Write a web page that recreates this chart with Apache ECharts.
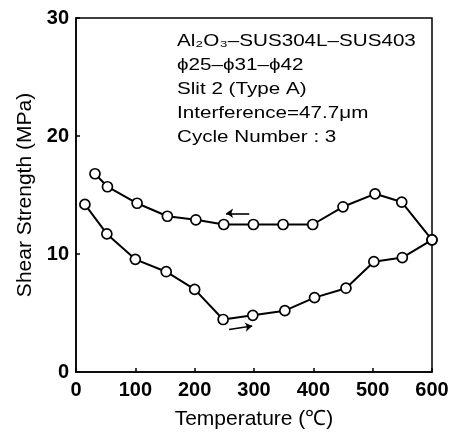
<!DOCTYPE html>
<html>
<head>
<meta charset="utf-8">
<script src="https://cdn.jsdelivr.net/npm/echarts@6/dist/echarts.min.js"></script>
<style>
html,body{margin:0;padding:0;background:#fff;}
#chart{width:459px;height:435px;}
</style>
</head>
<body>
<div id="chart"></div>
<script>
// ---- data ----
var heatT = [15, 52, 100, 152, 200, 248, 298, 352, 402, 455, 502, 550, 600];
var heatS = [14.2, 11.7, 9.55, 8.5, 7.0, 4.45, 4.8, 5.2, 6.3, 7.1, 9.35, 9.7, 11.2];
var coolT = [600, 549, 504, 450, 399, 349, 299, 249, 202, 154, 103, 53, 32];
var coolS = [11.2, 14.4, 15.1, 14.0, 12.5, 12.5, 12.5, 12.5, 12.9, 13.2, 14.3, 15.7, 16.8];
var coolArrow = [[292, 13.45], [253, 13.45]];
var heatArrow = [[258, 3.6], [297, 3.9]];
var xTicks = [0, 100, 200, 300, 400, 500, 600];
var yTicks = [0, 10, 20, 30];
var notes = [
  'Al\u2082O\u2083\u2013SUS304L\u2013SUS403',
  '\u03d525\u2013\u03d531\u2013\u03d542',
  'Slit 2 (Type A)',
  'Interference=47.7\u03bcm',
  'Cycle Number : 3'
];
var xName = 'Temperature (\u2103)';
var yName = 'Shear Strength (MPa)';

function pairs(xs, ys){ return xs.map(function(x,i){ return [x, ys[i]]; }); }

var FONT = '"Liberation Sans", Arial, Helvetica, sans-serif';
var chart = echarts.init(document.getElementById('chart'));

var lineSeries = function(name, xs, ys, arrow){
  return {
    name: name,
    type: 'line',
    data: pairs(xs, ys),
    symbol: 'circle',
    symbolSize: 10,
    showSymbol: true,
    lineStyle: {color: '#000', width: 2},
    itemStyle: {color: '#fff', borderColor: '#000', borderWidth: 1.7},
    emphasis: {disabled: true},
    animation: false,
    z: 3,
    markLine: {
      silent: true,
      symbol: ['none', 'arrow'],
      symbolSize: 7,
      label: {show: false},
      lineStyle: {color: '#000', width: 1.6, type: 'solid'},
      emphasis: {disabled: true},
      animation: false,
      data: [[{coord: arrow[0]}, {coord: arrow[1]}]]
    }
  };
};

var graphics = notes.map(function(t, i){
  return {
    type: 'text',
    x: 177,
    y: 41 + i * 24.2,
    scaleX: 1.25,
    scaleY: 1,
    style: {
      text: t,
      fill: '#000',
      font: '16.5px ' + FONT,
      textVerticalAlign: 'middle',
      verticalAlign: 'middle'
    },
    silent: true
  };
});

chart.setOption({
  backgroundColor: '#fff',
  animation: false,
  grid: {left: 76, top: 18, right: 27, bottom: 58, show: true, borderColor: '#000', borderWidth: 1.5, backgroundColor: 'transparent'},
  xAxis: {
    type: 'value', min: xTicks[0], max: xTicks[xTicks.length-1], interval: 100,
    name: xName, nameLocation: 'middle', nameGap: 37,
    nameTextStyle: {fontFamily: FONT, fontSize: 21, color: '#000'},
    axisLine: {show: true, lineStyle: {color: '#000', width: 1.5}},
    axisTick: {show: true, inside: true, length: 4, lineStyle: {color: '#000', width: 1.5}},
    axisLabel: {fontFamily: FONT, fontSize: 20, fontWeight: 'bold', color: '#000', margin: 8},
    splitLine: {show: false}
  },
  yAxis: {
    type: 'value', min: yTicks[0], max: yTicks[yTicks.length-1], interval: 10,
    name: yName, nameLocation: 'middle', nameGap: 40,
    nameTextStyle: {fontFamily: FONT, fontSize: 21, color: '#000'},
    axisLine: {show: true, lineStyle: {color: '#000', width: 1.5}},
    axisTick: {show: true, inside: true, length: 4, lineStyle: {color: '#000', width: 1.5}},
    axisLabel: {fontFamily: FONT, fontSize: 20, fontWeight: 'bold', color: '#000', margin: 7},
    splitLine: {show: false}
  },
  series: [
    lineSeries('heating', heatT, heatS, heatArrow),
    lineSeries('cooling', coolT, coolS, coolArrow)
  ],
  graphic: graphics
});
</script>
</body>
</html>
